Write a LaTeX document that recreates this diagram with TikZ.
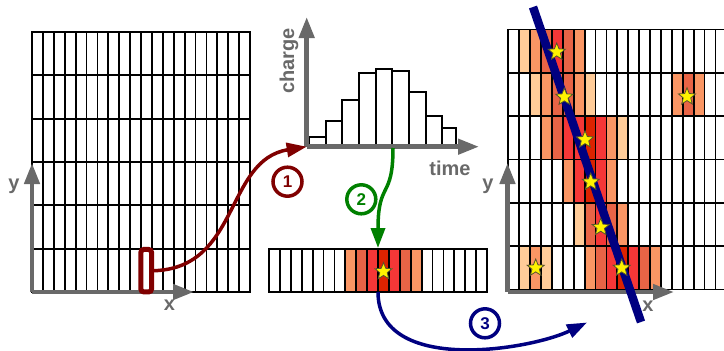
\documentclass[tikz,border=0pt]{standalone}
\usepackage{fontspec}
\setmainfont{Liberation Sans}
\usetikzlibrary{arrows.meta,shapes.geometric}
\definecolor{axgray}{RGB}{105,105,105}
\definecolor{maroonc}{RGB}{128,0,0}
\definecolor{greenc}{RGB}{0,128,0}
\definecolor{navyc}{RGB}{0,0,128}
\definecolor{cpeach}{RGB}{255,204,153}
\definecolor{corange}{RGB}{250,150,100}
\definecolor{cdark}{RGB}{232,100,70}
\definecolor{cred}{RGB}{245,55,55}
\definecolor{cdeep}{RGB}{220,35,0}
\tikzset{
  cellline/.style={draw=black, line width=1.8pt, line cap=rect},
  axisline/.style={draw=axgray, line width=4.5pt, -{Triangle[length=21pt,width=15pt]}},
  axlabel/.style={text=axgray, font=\bfseries\fontsize{20}{20}\selectfont, inner sep=0pt},
  hitstar/.style={star, star points=5, star point ratio=2.3, fill=yellow, draw=olive!50!black, line width=0.8pt, minimum size=18pt, inner sep=0pt},
  numcircle/.style={circle, line width=3.5pt, minimum size=29pt, inner sep=0pt, font=\bfseries\fontsize{17}{17}\selectfont},
  link/.style={line width=3.5pt, -{Triangle[length=20pt,width=14pt]}},
  bar/.style={draw=black, fill=white, line width=1.8pt},
}
\begin{document}
\begin{tikzpicture}[x=1pt,y=-1pt]
\useasboundingbox (0,0) rectangle (724,351);
\clip (0,0) rectangle (724,351);

% ---------- left grid ----------
\foreach \i in {0,...,20} \draw[cellline] ({32+\i*10.9},32) -- ({32+\i*10.9},292);
\foreach \j in {0,...,6} \draw[cellline] (32,{32+\j*43.333}) -- (250,{32+\j*43.333});
\draw[axisline] (32,292) -- (32,163);
\draw[axisline] (32,292) -- (194,292);
\node[axlabel, anchor=base] (ly) at (14,189.5) {y};
\node[axlabel, anchor=base] (lx) at (169.5,310) {x};
\node[draw=maroonc, line width=5pt, rounded corners=3pt, minimum width=10.7pt, minimum height=42.5pt, inner sep=0pt] (sel) at (146.2,270.7) {};

% ---------- histogram ----------
\coordinate (horig) at (306.7,146.7);
\foreach \a/\b/\t in {309.3/325.7/137.3, 325.7/342.3/121, 342.3/359/100, 359/375.7/73.3, 375.7/392.3/68.7, 392.3/409/71, 409/425.7/91.7, 425.7/442.3/115.7, 442.3/456/128.3}
  \draw[bar] (\a,146.7) rectangle (\b,\t);
\draw[axisline] (horig) -- (306.7,17);
\draw[axisline] (horig) -- (479,146.7);
\node[axlabel, rotate=90] (lcharge) at (289,61) {charge};
\node[axlabel, anchor=base] (ltime) at (450,175.5) {time};

% ---------- strip ----------
\foreach \c/\col in {7/corange, 8/cdark, 9/cred, 10/cdeep, 11/cred, 12/cdark, 13/corange}
  \fill[\col] ({269+\c*10.9},249) rectangle ++(10.9,43);
\foreach \i in {0,...,20} \draw[cellline] ({269+\i*10.9},249) -- ({269+\i*10.9},292);
\draw[cellline] (269,249) -- (487,249);
\draw[cellline] (269,292) -- (487,292);
\node[hitstar] (s0) at (383.5,271.5) {};

% ---------- right grid ----------
\foreach \c/\r/\col in {
  1/0/cpeach, 2/0/corange, 3/0/cdark, 4/0/cred, 5/0/cdark, 6/0/corange,
  2/1/cpeach, 3/1/corange, 4/1/cdark, 5/1/cdark, 6/1/corange, 7/1/cpeach, 15/1/corange, 16/1/cdark, 17/1/corange,
  3/2/corange, 4/2/cdark, 5/2/cred, 6/2/cred, 7/2/cdeep, 8/2/cred, 9/2/corange, 10/2/cpeach,
  5/3/corange, 6/3/cred, 7/3/cdeep, 8/3/cred, 9/3/corange,
  6/4/cpeach, 7/4/cdark, 8/4/cred, 9/4/cdark, 10/4/corange,
  1/5/cpeach, 2/5/corange, 3/5/cpeach, 7/5/corange, 8/5/cdark, 9/5/cred, 10/5/cdeep, 11/5/cred, 12/5/cdark, 13/5/corange}
  \fill[\col] ({508.3+\c*10.9},{29.5+\r*43.333}) rectangle ++(10.9,43.333);
\foreach \i in {0,...,20} \draw[cellline] ({508.3+\i*10.9},29.5) -- ({508.3+\i*10.9},289.5);
\foreach \j in {0,...,6} \draw[cellline] (508.3,{29.5+\j*43.333}) -- (730,{29.5+\j*43.333});
\draw[axisline] (507.5,292) -- (507.5,163);
\draw[axisline] (507.5,292) -- (674,292);
\node[axlabel, anchor=base] (ry) at (488,189.5) {y};
\node[axlabel, anchor=base] (rx) at (648,311) {x};

% track
\coordinate (t1) at (533,7);
\coordinate (t2) at (641,322);
\draw[navyc, line width=8.5pt] (t1) -- (t2);
\foreach \x/\y [count=\k] in {556.7/52, 564.3/97, 585/139.7, 590.7/182, 600.7/227.3, 621.7/268, 535.7/268, 687/96.7}
  \node[hitstar] (r\k) at (\x,\y) {};

% ---------- connectors ----------
\coordinate (g0) at (393,148);
\coordinate (g1) at (378,248);
\coordinate (b0) at (378,292);
\coordinate (b1) at (587,322.5);

\draw[link, maroonc] (sel.east) .. controls (240,268) and (225,160) .. (horig);
\draw[link, greenc] (g0) .. controls (393,200) and (378,180) .. (g1);
\draw[link, navyc] (b0) .. controls (378,375) and (530,350) .. (b1);

\node[numcircle, draw=maroonc, text=maroonc] (n1) at (287.5,181.7) {1};
\node[numcircle, draw=greenc, text=greenc] (n2) at (361.3,199.3) {2};
\node[numcircle, draw=navyc, text=navyc] (n3) at (485,323.3) {3};
\end{tikzpicture}
\end{document}
